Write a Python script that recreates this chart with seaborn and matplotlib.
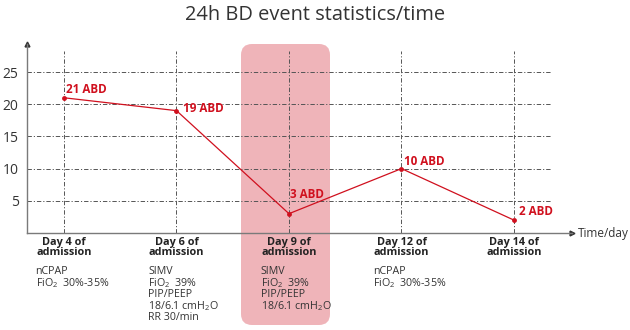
import matplotlib
matplotlib.use("Agg")
import matplotlib.pyplot as plt
from matplotlib.patches import FancyBboxPatch
import seaborn as sns
import pandas as pd

# --- data ---
days = ["Day 4 of\nadmission", "Day 6 of\nadmission", "Day 9 of\nadmission",
        "Day 12 of\nadmission", "Day 14 of\nadmission"]
abd_events = [21, 19, 3, 10, 2]
support = [
    "nCPAP\nFiO$_2$  30%-35%",
    "SIMV\nFiO$_2$  39%\nPIP/PEEP\n18/6.1 cmH$_2$O\nRR 30/min",
    "SIMV\nFiO$_2$  39%\nPIP/PEEP\n18/6.1 cmH$_2$O",
    "nCPAP\nFiO$_2$  30%-35%",
    "",
]
y_ticks = [5, 10, 15, 20, 25]

sns.set_theme(style="white")
plt.rcParams["font.family"] = ["Open Sans", "DejaVu Sans"]
plt.rcParams["mathtext.fontset"] = "custom"
plt.rcParams["mathtext.rm"] = "Open Sans"
plt.rcParams["mathtext.it"] = "Open Sans"

RED = "#d0101e"
GRID = "#555555"
AXIS = "#7a7a7a"

df = pd.DataFrame({"pos": range(len(days)), "abd": abd_events})

fig = plt.figure(figsize=(6.3, 3.3), dpi=100)
ax = fig.add_axes([27 / 630, (330 - 233) / 330, (572 - 27) / 630, (233 - 44) / 330])
ax.patch.set_alpha(0)
ax.set_zorder(1)

# category 0 sits at ~64 px, 112.5 px per step
x_lo, x_hi = -0.329, 4.516
y_top = 29.35
ax.set_xlim(x_lo, x_hi)
ax.set_ylim(0, y_top)

# highlighted period band (rounded), in inches
band = FancyBboxPatch((2.41, 0.05), 0.89, 2.81,
                      boxstyle="round,pad=0,rounding_size=0.11",
                      transform=fig.dpi_scale_trans, facecolor="#efb4b9",
                      edgecolor="none", zorder=-1)
fig.patches.append(band)

# dash-dot grid
dash = (0, (4.5, 2, 1.2, 2))
for yv in y_ticks:
    ax.plot([x_lo, 4.33], [yv, yv], color=GRID, lw=0.7, ls=dash, zorder=1)
for p in df["pos"]:
    ax.plot([p, p], [0, 28.2], color=GRID, lw=0.7, ls=dash, zorder=1)

sns.lineplot(data=df, x="pos", y="abd", color=RED, lw=0.9, marker="o",
             markersize=3.5, markeredgewidth=0, ax=ax, zorder=3)

# point labels: (dx, dy) in points, left-aligned, vertically centred
label_offsets = [(1.5, 6, ), (4.5, 1.5), (1, 13.5), (1.5, 5), (3.5, 6.5)]
for p, v, (dx, dy) in zip(df["pos"], abd_events, label_offsets):
    ax.annotate(f"{v} ABD", (p, v), xytext=(dx, dy), textcoords="offset points",
                color=RED, fontsize=8.4, fontweight="bold", ha="left", va="center",
                zorder=4)

# axes styling
sns.despine(ax=ax)
for s in ("left", "bottom"):
    ax.spines[s].set_color(AXIS)
    ax.spines[s].set_linewidth(1.0)
ax.plot(1, 0, ">", color="#333333", markersize=3.5, transform=ax.transAxes, clip_on=False)
ax.plot(0, 1, "^", color="#333333", markersize=3.5, transform=ax.transAxes, clip_on=False)

ax.set_yticks(y_ticks)
ax.set_yticklabels([str(t) for t in y_ticks], fontsize=10, color="#333333")
ax.tick_params(axis="y", length=0, pad=6)
ax.set_xticks([])
ax.set_xlabel("")
ax.set_ylabel("")

for p, day, sup in zip(df["pos"], days, support):
    ax.annotate(day, (p, 0), xytext=(0, -3), textcoords="offset points",
                ha="center", va="top", fontsize=7.8, fontweight="bold",
                color="#222222", linespacing=0.82, annotation_clip=False)
    if sup:
        ax.annotate(sup, (p, 0), xytext=(-20.5, -24), textcoords="offset points",
                    ha="left", va="top", fontsize=7.7, color="#333333",
                    linespacing=0.88, annotation_clip=False)

ax.annotate("Time/day", (1, 0), xycoords="axes fraction", xytext=(4, 0),
            textcoords="offset points", ha="left", va="center",
            fontsize=8.5, color="#333333")

fig.text(0.5, 0.955, "24h BD event statistics/time", ha="center", va="center",
         fontsize=14.4, color="#333333")

fig.savefig("out.png", dpi=100)
